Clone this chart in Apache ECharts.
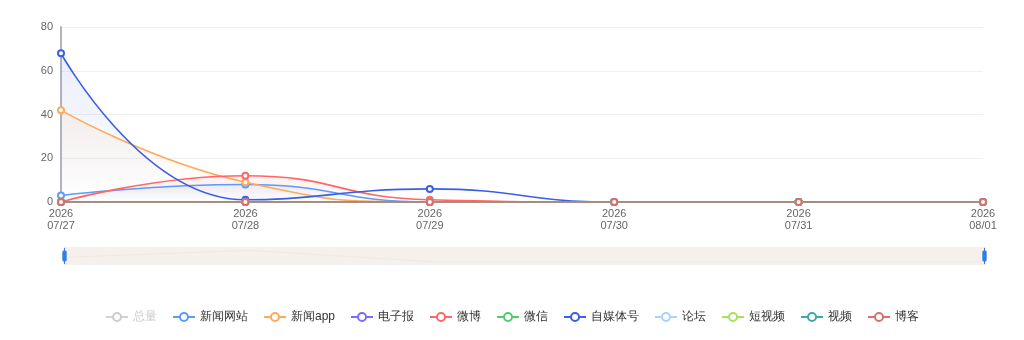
<!DOCTYPE html>
<html><head><meta charset="utf-8">
<script src="https://cdn.jsdelivr.net/npm/echarts@6/dist/echarts.min.js"></script>
<style>html,body{margin:0;padding:0;background:#fff}#c{width:1024px;height:340px}</style>
</head><body><div id="c"></div>
<script>
const categories = ['2026\n07/27','2026\n07/28','2026\n07/29','2026\n07/30','2026\n07/31','2026\n08/01'];
const seriesNames = ['总量','新闻网站','新闻app','电子报','微博','微信','自媒体号','论坛','短视频','视频','博客'];
const colors = ['#c8c8c8','#5b9bfa','#ffa95a','#7b6cff','#ff6666','#4cce6a','#3a5fe6','#a6d3ff','#a8e060','#3ea9a9','#d9706e'];
const totalVals   = [113, 30, 7, 0, 0, 0];
const newsSite    = [3, 8, 0, 0, 0, 0];
const newsApp     = [42, 9, 0, 0, 0, 0];
const ePaper      = [0, 0, 0, 0, 0, 0];
const weibo       = [0, 12, 1, 0, 0, 0];
const wechat      = [0, 0, 0, 0, 0, 0];
const selfMedia   = [68, 1, 6, 0, 0, 0];
const forum       = [0, 0, 0, 0, 0, 0];
const shortVideo  = [0, 0, 0, 0, 0, 0];
const video       = [0, 0, 0, 0, 0, 0];
const blog        = [0, 0, 0, 0, 0, 0];
const allData = [totalVals,newsSite,newsApp,ePaper,weibo,wechat,selfMedia,forum,shortVideo,video,blog];

function hexA(h,a){const r=parseInt(h.slice(1,3),16),g=parseInt(h.slice(3,5),16),b=parseInt(h.slice(5,7),16);return `rgba(${r},${g},${b},${a})`;}

const chart = echarts.init(document.getElementById('c'));
chart.setOption({
  animation:false,
  color: colors,
  grid:{left:61,right:41,top:27,bottom:138,containLabel:false},
  legend:{
    bottom:12, left:'center', itemWidth:22, itemHeight:10, itemGap:15,
    textStyle:{color:'#333',fontSize:12},
    inactiveColor:'#ccc',
    data: seriesNames,
    selected:{'总量':false}
  },
  xAxis:{
    type:'category', boundaryGap:false, data:categories,
    axisLine:{show:true,lineStyle:{color:'#ccc'}},
    axisTick:{show:false},
    axisLabel:{color:'#666',fontSize:11,lineHeight:12,margin:6}
  },
  yAxis:{
    type:'value', min:0, max:80, interval:20,
    axisLine:{show:true,lineStyle:{color:'#b4b4bc',width:2}},
    axisTick:{show:false},
    axisLabel:{color:'#666',fontSize:11},
    splitLine:{lineStyle:{color:'#f0f0f0'}}
  },
  dataZoom:[{
    type:'slider', left:61, right:41, top:247, height:18,
    start:0, end:100,
    showDetail:false, brushSelect:false,
    backgroundColor:'#f5f0eb', fillerColor:'rgba(245,240,235,0.6)',
    borderColor:'transparent',
    dataBackground:{lineStyle:{color:'#e8ddd2',width:1},areaStyle:{color:'rgba(245,240,235,0)'}},
    selectedDataBackground:{lineStyle:{color:'#e8ddd2',width:1},areaStyle:{color:'rgba(245,240,235,0)'}},
    handleStyle:{color:'#2f7de6',borderColor:'#2f7de6'},
    moveHandleSize:0,
    handleSize:'90%'
  }],
  series: seriesNames.map((n,i)=>({
    name:n, type:'line', smooth:true, data:allData[i],
    symbol:'emptyCircle', symbolSize:6,
    lineStyle:{width:1.6},
    areaStyle:{color:new echarts.graphic.LinearGradient(0,0,0,1,[{offset:0,color:hexA(colors[i],0.15)},{offset:1,color:hexA(colors[i],0)}])}
  }))
});
</script></body></html>
